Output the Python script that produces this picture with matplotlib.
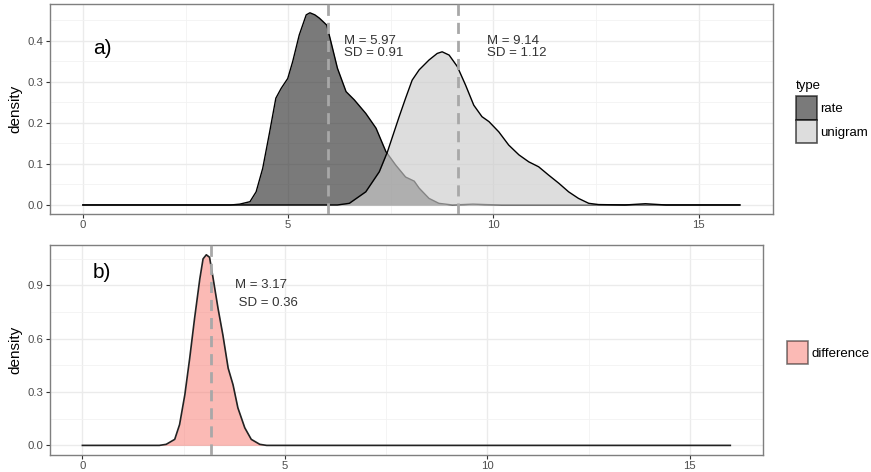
import matplotlib
matplotlib.use("Agg")
import matplotlib.pyplot as plt
from matplotlib.patches import Patch
from matplotlib.ticker import MultipleLocator, FormatStrFormatter

plt.rcParams['font.family'] = ['Liberation Sans', 'DejaVu Sans']

# density curves (x, density)
rate_x = [0.0, 3.6, 3.82, 4.07, 4.22, 4.38, 4.55, 4.70, 4.83, 4.99, 5.11, 5.27, 5.44,
          5.53, 5.65, 5.76, 5.94, 6.04, 6.20, 6.41, 6.61, 6.89, 7.14, 7.38, 7.62,
          7.86, 8.07, 8.19, 8.43, 8.67, 9.0, 9.5, 9.8, 10.2, 16.0]
rate_y = [0.0, 0.0, 0.002, 0.008, 0.032, 0.089, 0.178, 0.260, 0.284, 0.308, 0.349,
          0.414, 0.463, 0.468, 0.463, 0.455, 0.438, 0.398, 0.333, 0.276, 0.256, 0.223,
          0.187, 0.130, 0.097, 0.068, 0.058, 0.041, 0.016, 0.004, 0.0, 0.002, 0.001,
          0.0, 0.0]

unigram_x = [0.0, 6.2, 6.49, 6.89, 7.22, 7.42, 7.70, 7.86, 8.02, 8.19, 8.43, 8.63,
             8.75, 8.92, 9.12, 9.32, 9.52, 9.72, 9.89, 10.13, 10.37, 10.62, 10.86,
             11.10, 11.34, 11.59, 11.83, 12.07, 12.32, 12.56, 13.2, 13.7, 14.2, 16.0]
unigram_y = [0.0, 0.0, 0.004, 0.032, 0.081, 0.130, 0.214, 0.260, 0.304, 0.329, 0.353,
             0.369, 0.373, 0.365, 0.337, 0.292, 0.243, 0.215, 0.203, 0.178, 0.146,
             0.122, 0.105, 0.093, 0.073, 0.053, 0.032, 0.016, 0.004, 0.001, 0.0,
             0.003, 0.0, 0.0]

diff_x = [0.0, 1.9, 2.07, 2.28, 2.40, 2.53, 2.65, 2.77, 2.90, 2.98, 3.06, 3.14,
          3.23, 3.35, 3.47, 3.60, 3.72, 3.84, 4.01, 4.17, 4.38, 4.55, 16.0]
diff_y = [0.0, 0.0, 0.006, 0.034, 0.117, 0.285, 0.490, 0.714, 0.937, 1.049, 1.072,
          1.058, 0.937, 0.770, 0.620, 0.434, 0.341, 0.211, 0.099, 0.034, 0.006, 0.0, 0.0]

means = {"rate": 5.97, "unigram": 9.14, "difference": 3.17}
sds = {"rate": 0.91, "unigram": 1.12, "difference": 0.36}

fills = {"rate": "#333333", "unigram": "#cccccc", "difference": "#F8766D"}
alphas = {"rate": 0.65, "unigram": 0.65, "difference": 0.5}

W, H = 871, 472
fig = plt.figure(figsize=(W / 100, H / 100), dpi=100)
ax1 = fig.add_axes([50 / W, 1 - 214 / H, 722.7 / W, 210 / H])
ax2 = fig.add_axes([50 / W, 1 - 455 / H, 712.7 / W, 210 / H])


def style(ax, ystep):
    ax.set_xlim(-0.8, 16.8)
    ax.xaxis.set_major_locator(MultipleLocator(5))
    ax.xaxis.set_minor_locator(MultipleLocator(2.5))
    ax.yaxis.set_major_locator(MultipleLocator(ystep))
    ax.yaxis.set_minor_locator(MultipleLocator(ystep / 2))
    ax.yaxis.set_major_formatter(FormatStrFormatter('%.1f'))
    ax.grid(which='major', color='#ebebeb', lw=1.0, zorder=0)
    ax.grid(which='minor', color='#f2f2f2', lw=0.6, zorder=0)
    ax.set_axisbelow(True)
    for s in ax.spines.values():
        s.set_color('#7f7f7f')
        s.set_linewidth(1.0)
    ax.tick_params(which='major', length=3, width=0.8, color='#333333',
                   labelsize=8.2, labelcolor='#4d4d4d', pad=1.5)
    ax.tick_params(which='minor', length=0)
    ax.set_ylabel("density", fontsize=11, labelpad=4)


def legend_keys(ax, names, title, anchor):
    handles = [Patch(facecolor=fills[n], alpha=alphas[n], edgecolor='black', lw=1.2, label=n)
               for n in names]
    leg = ax.legend(handles=handles, title=title, loc='center left',
                    bbox_to_anchor=anchor, frameon=False, fontsize=9.5,
                    title_fontsize=9.5, handlelength=1.6, handleheight=2.4,
                    handletextpad=0.25, labelspacing=0.0, borderaxespad=0,
                    borderpad=0)
    leg._legend_box.align = "left"
    leg._legend_box.sep = 3
    for p in leg.get_patches():
        p.set_edgecolor('black')
    return leg


# top panel: rate vs unigram
for name, xs, ys in [("rate", rate_x, rate_y), ("unigram", unigram_x, unigram_y)]:
    ax1.fill_between(xs, ys, color=fills[name], alpha=alphas[name], lw=0, zorder=2)
    ax1.plot(xs, ys, color='black', lw=1.0, zorder=2)
for name in ["rate", "unigram"]:
    ax1.axvline(means[name], color='#a8a8a8', lw=2, ls=(0, (4, 2.5)), zorder=3)
style(ax1, 0.1)
ax1.set_ylim(-0.022, 0.4894)

ax1.text(0.26, 0.38, "a)", fontsize=15, va='center', ha='left')
ax1.text(6.37, 0.399, f"M = {means['rate']:.2f}", fontsize=9.5, va='center', color='#333333')
ax1.text(6.37, 0.369, f"SD = {sds['rate']:.2f}", fontsize=9.5, va='center', color='#333333')
ax1.text(9.84, 0.399, f"M = {means['unigram']:.2f}", fontsize=9.5, va='center', color='#333333')
ax1.text(9.84, 0.369, f"SD = {sds['unigram']:.2f}", fontsize=9.5, va='center', color='#333333')

legend_keys(ax1, ["rate", "unigram"], "type", (1.032, 0.488))

# bottom panel: difference
ax2.fill_between(diff_x, diff_y, color=fills["difference"], alpha=alphas["difference"],
                 lw=0, zorder=2)
ax2.plot(diff_x, diff_y, color='#222222', lw=1.2, zorder=2)
ax2.axvline(means["difference"], color='#a8a8a8', lw=2, ls=(0, (4, 2.5)), zorder=3)
style(ax2, 0.3)
ax2.set_ylim(-0.054, 1.127)

ax2.text(0.26, 0.97, "b)", fontsize=15, va='center', ha='left')
ax2.text(3.76, 0.90, f"M = {means['difference']:.2f}", fontsize=9.5, va='center', color='#333333')
ax2.text(3.76, 0.80, f" SD = {sds['difference']:.2f}", fontsize=9.5, va='center', color='#333333')

legend_keys(ax2, ["difference"], None, (1.034, 0.488))

fig.savefig("out.png", dpi=100)
